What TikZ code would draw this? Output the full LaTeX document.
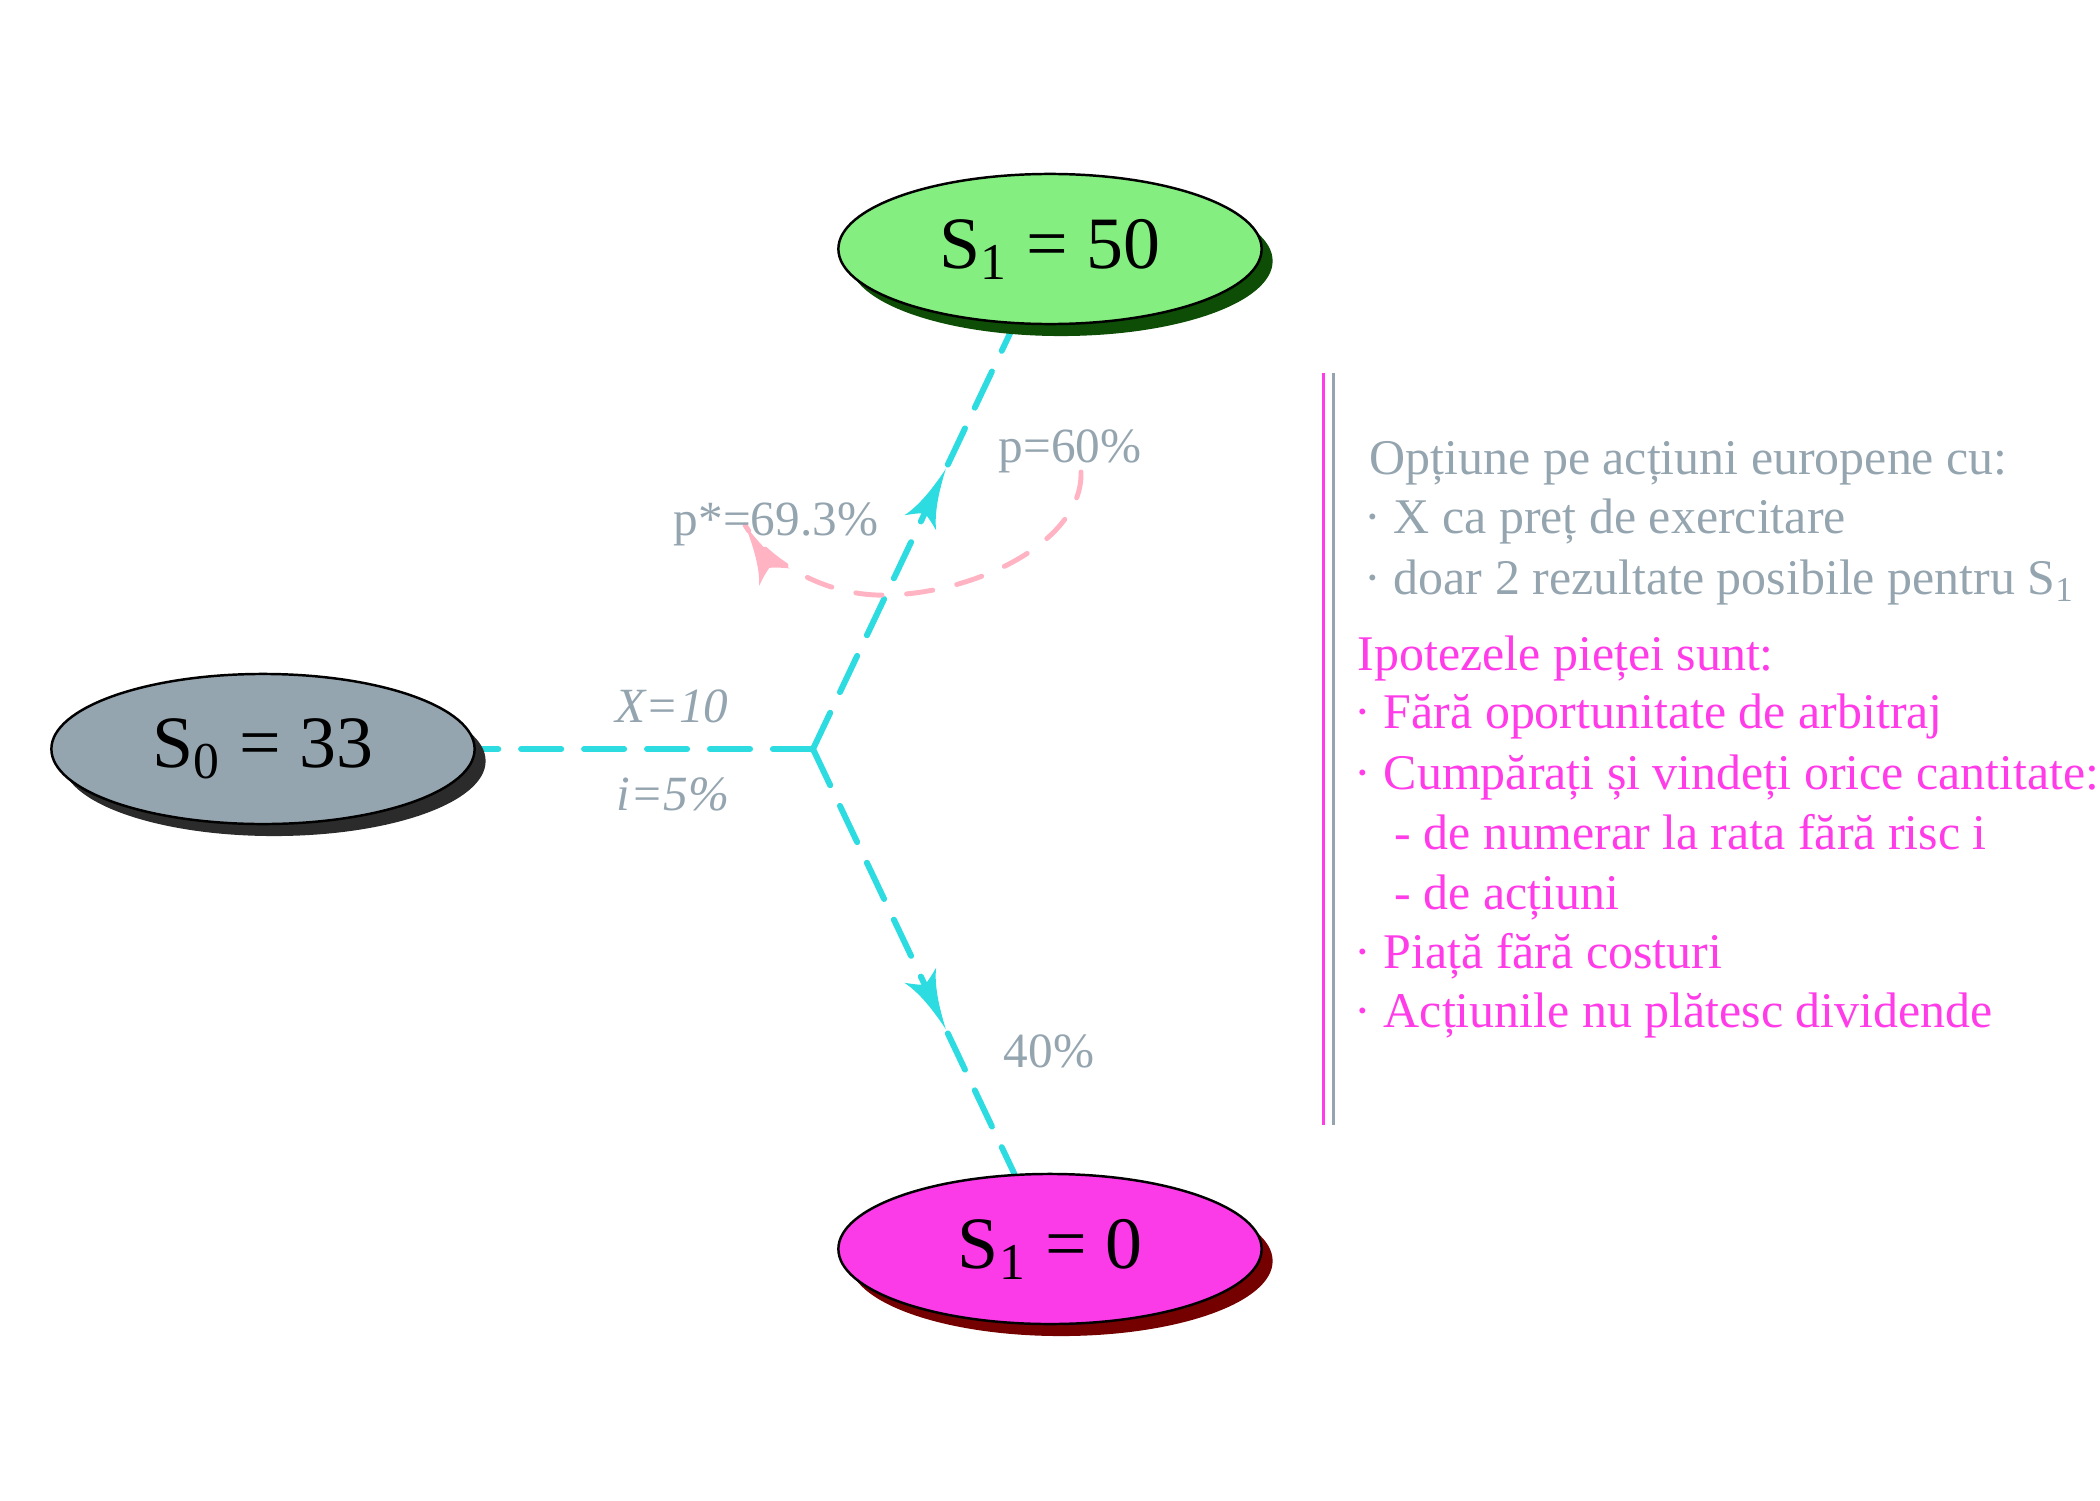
\documentclass[tikz,border=0pt]{standalone}
\usepackage{fontspec}
\setmainfont{Liberation Serif}
\usetikzlibrary{shapes.geometric,shadows,decorations.markings}
\pgfdeclarelayer{background}
\pgfsetlayers{background,main}
\definecolor{cyanline}{HTML}{2CDCE0}
\definecolor{pinkline}{HTML}{FFB3C3}
\definecolor{grayfill}{HTML}{95A5AF}
\definecolor{graytext}{HTML}{95A5B0}
\definecolor{greenfill}{HTML}{85EE80}
\definecolor{greenshadow}{HTML}{0D4D05}
\definecolor{magfill}{HTML}{FB3AE8}
\definecolor{redshadow}{HTML}{750000}
\definecolor{grayshadow}{HTML}{2B2B2B}
\definecolor{magtext}{HTML}{FF3CE8}
\begin{document}
\begin{tikzpicture}[x=0.01cm,y=-0.01cm,
  state/.style={ellipse, draw=black, line width=0.7pt, minimum width=4.23cm,
    minimum height=1.5cm, inner sep=0pt, font=\fontsize{21}{25}\selectfont},
  shad/.style={drop shadow={shadow xshift=0.11cm, shadow yshift=-0.12cm, opacity=1, fill=#1}},
  conn/.style={cyanline, line width=1.7pt, line cap=round, dash pattern=on 11.4pt off 6.5pt},
  pinkpath/.style={pinkline, line width=1.4pt, line cap=round, dash pattern=on 7.5pt off 7pt},
  midtip/.style={postaction={decorate}, decoration={markings,
    mark=at position 3.1cm with {\fill[cyanline] (0pt,0pt) .. controls (-7pt,1pt) and (-13pt,2.5pt) .. (-17pt,5pt)
      .. controls (-15pt,2pt) .. (-14pt,0pt) .. controls (-15pt,-2pt) .. (-17pt,-5pt)
      .. controls (-13pt,-2.5pt) and (-7pt,-1pt) .. (0pt,0pt) -- cycle;}}},
  endtip/.style={postaction={decorate}, decoration={markings,
    mark=at position 1 with {\fill[pinkline] (0pt,0pt) .. controls (-7pt,1pt) and (-13pt,2.5pt) .. (-17pt,5pt)
      .. controls (-15pt,2pt) .. (-14pt,0pt) .. controls (-15pt,-2pt) .. (-17pt,-5pt)
      .. controls (-13pt,-2.5pt) and (-7pt,-1pt) .. (0pt,0pt) -- cycle;}}},
  lbl/.style={graytext, inner sep=0pt, anchor=base, font=\fontsize{14}{17}\selectfont},
  gline/.style={graytext, inner sep=0pt, anchor=base west, font=\fontsize{14.2}{17}\selectfont},
  mline/.style={magtext, inner sep=0pt, anchor=base west, font=\fontsize{14.2}{17}\selectfont}
]
\useasboundingbox (0,0) rectangle (2100,1500);

\node[state, fill=greenfill, shad=greenshadow] (up) at (1050,249) {S\textsubscript{1} = 50};
\node[state, fill=grayfill, shad=grayshadow] (s0) at (263,749) {S\textsubscript{0} = 33};
\node[state, fill=magfill, shad=redshadow] (down) at (1050,1249) {S\textsubscript{1} = 0};

\coordinate (j) at (813,749);
\coordinate (pa) at (1081,472);
\coordinate (pb) at (745,525);

\begin{pgfonlayer}{background}
\draw[conn] (j) -- (s0);
\draw[conn, midtip] (j) -- (up);
\draw[conn, midtip] (j) -- (down);
\end{pgfonlayer}

\draw[pinkpath, endtip] (pa) .. controls (1083,540) and (980,592) .. (890,595)
  .. controls (820,598) and (762,555) .. (pb);

\node[lbl] (lp) at (1070,462) {p=60\%};
\node[lbl] (lps) at (776,535) {p*=69.3\%};
\node[lbl, font=\fontsize{14}{17}\selectfont\itshape] (lx) at (672,722) {X=10};
\node[lbl, font=\fontsize{14}{17}\selectfont\itshape] (li) at (673,810) {i=5\%};
\node[lbl] (l40) at (1049,1067) {40\%};

\draw[magtext, line width=0.85pt] (1323,373) coordinate (v1a) -- (1323,1125) coordinate (v1b);
\draw[graytext, line width=0.85pt] (1333,373) coordinate (v2a) -- (1333,1125) coordinate (v2b);

\node[gline] (g1) at (1369,474) {Opțiune pe acțiuni europene cu:};
\node[gline] (g2) at (1364,533) {· X ca preț de exercitare};
\node[gline] (g3) at (1364,594) {· doar 2 rezultate posibile pentru S\textsubscript{1}};

\node[mline] (m1) at (1357,670) {Ipotezele pieței sunt:};
\node[mline] (m2) at (1354,728) {· Fără oportunitate de arbitraj};
\node[mline] (m3) at (1354,789) {· Cumpărați și vindeți orice cantitate:};
\node[mline] (m4) at (1394,849) {- de numerar la rata fără risc i};
\node[mline] (m5) at (1394,909) {- de acțiuni};
\node[mline] (m6) at (1354,968) {· Piață fără costuri};
\node[mline] (m7) at (1354,1027) {· Acțiunile nu plătesc dividende};
\end{tikzpicture}
\end{document}
